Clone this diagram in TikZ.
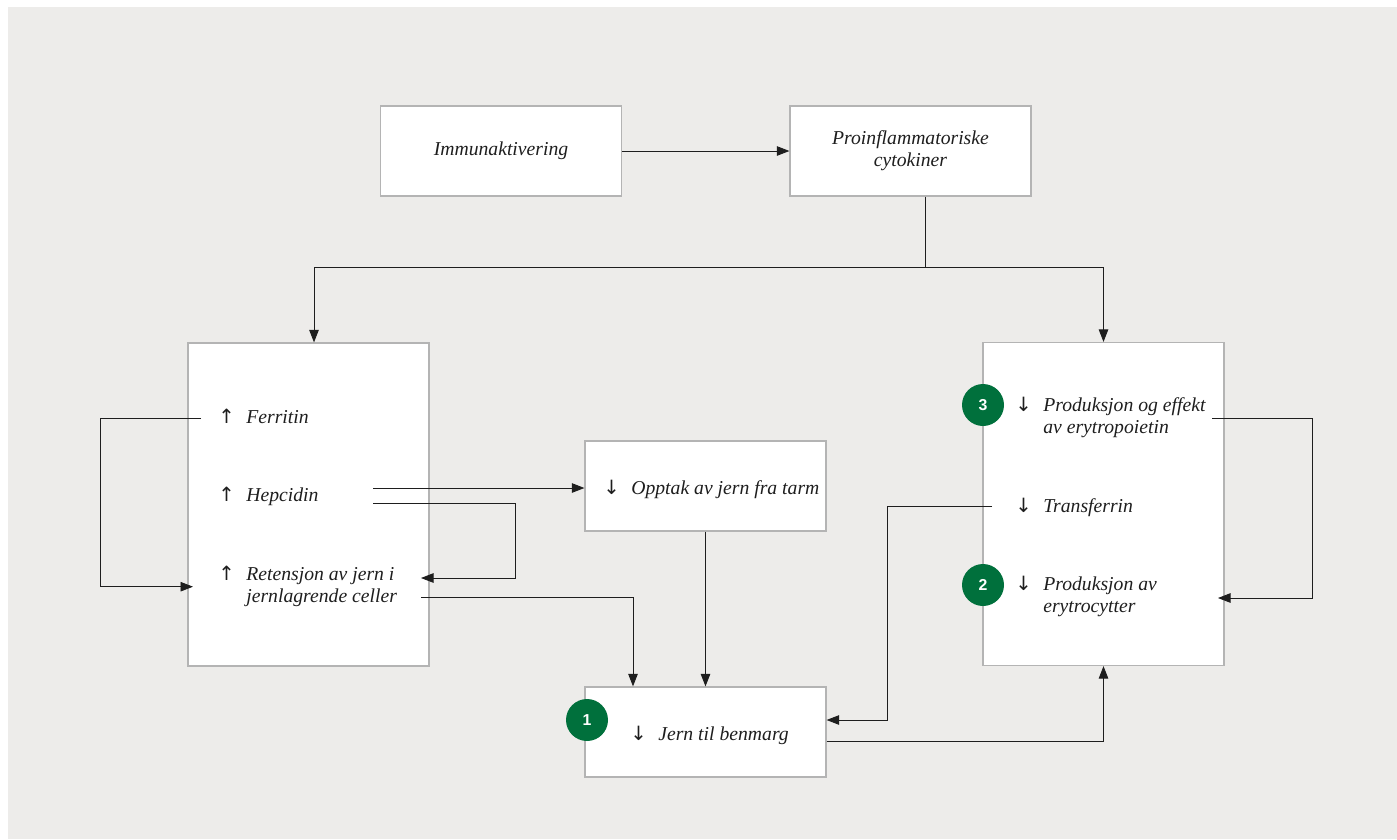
\documentclass[tikz,border=0pt]{standalone}
\usepackage{fontspec}
\setmainfont{Liberation Serif}
\newfontfamily\arrowfont{DejaVu Sans}
\setsansfont{Liberation Sans}
\usetikzlibrary{arrows.meta, positioning, calc}
\definecolor{bggray}{HTML}{EDECEA}
\definecolor{boxline}{HTML}{B4B4B4}
\definecolor{markgreen}{HTML}{00703C}
\definecolor{ink}{HTML}{1E1E1E}
\newcommand{\diafont}{\fontsize{11.2}{12.7}\selectfont\itshape}
\newcommand{\updn}[2]{\makebox[0.56cm][l]{\arrowfont\upshape #1}\begin{tabular}[t]{@{}l@{}}#2\end{tabular}}
\tikzset{
    box/.style={rectangle, draw=boxline, line width=0.7pt, fill=white, minimum width=4.82cm, minimum height=1.8cm, align=center, font=\diafont, text=ink},
    tallbox/.style={box, minimum height=6.46cm},
    item/.style={anchor=base west, inner sep=0pt, font=\diafont, text=ink},
    marker/.style={circle, fill=markgreen, text=white, minimum size=0.84cm, inner sep=0pt, font=\sffamily\bfseries\fontsize{9}{9}\selectfont},
    arrow/.style={-{Triangle[length=0.25cm, width=0.19cm]}, line width=0.5pt, draw=ink},
    line/.style={line width=0.5pt, draw=ink}
}

\begin{document}
\begin{tikzpicture}[x=0.02cm, y=-0.02cm]
    \useasboundingbox (0,0) rectangle (1397,839);
    \fill[bggray] (8,7) rectangle (1397,839);

    % --- Boxes ---
    \node (immun) [box] at (501,151) {Immunaktivering};
    \node (cytok) [box] at (910.5,151) {Proinflammatoriske\\cytokiner};
    \node (lbox) [tallbox] at (308.5,504.5) {};
    \node (rbox) [tallbox] at (1103.5,504) {};
    \node (opptak) [box] at (705.5,486) {};
    \node (jern) [box] at (705.5,732) {};

    % --- Items ---
    \node (ferritin) [item] at (218,423) {\updn{↑}{Ferritin}};
    \node (hepcidin) [item] at (218,501) {\updn{↑}{Hepcidin}};
    \node (retensjon) [item] at (218,580) {\updn{↑}{Retensjon av jern i\\jernlagrende celler}};
    \node (opptaktxt) [item] at (603,494) {\updn{↓}{Opptak av jern fra tarm}};
    \node (jerntxt) [item] at (630,740) {\updn{↓}{Jern til benmarg}};
    \node (epo) [item] at (1015,411) {\updn{↓}{Produksjon og effekt\\av erytropoietin}};
    \node (transferrin) [item] at (1015,512) {\updn{↓}{Transferrin}};
    \node (erytro) [item] at (1015,590) {\updn{↓}{Produksjon av\\erytrocytter}};

    % --- Free ends ---
    \coordinate (split) at (925,267);
    \coordinate (hepA) at (373,488);
    \coordinate (hepB) at (373,503);
    \coordinate (retR) at (421,578);
    \coordinate (retOut) at (421,597);
    \coordinate (epoR) at (1212,418);
    \coordinate (eryR) at (1218,598);
    \coordinate (trfL) at (992,506);

    % --- Connectors ---
    \draw [arrow] (immun) -- (cytok);
    \draw [line] (cytok.south -| split) -- (split);
    \draw [arrow] (split) -| ($(lbox.north)+(5.5,0)$);
    \draw [arrow] (split) -| (rbox.north);

    \draw [arrow] ([xshift=-0.34cm]ferritin.west) -- ++(-101,0) |- ([xshift=-0.5cm]retensjon.west);
    \draw [arrow] (hepA) -- (hepA -| opptak.west);
    \draw [arrow] (hepB) -- ++(142,0) |- (retR);
    \draw [arrow] (retOut) -| ($(jern.north)+(-72.5,0)$);
    \draw [arrow] (opptak) -- (jern);

    \draw [arrow] (epoR) -- ++(100,0) |- (eryR);
    \draw [arrow] (trfL) -- ++(-105,0) |- ($(jern.east)+(0,-12)$);
    \draw [arrow] ($(jern.east)+(0,9)$) -| (rbox.south);

    % --- Markers ---
    \node (m3) [marker] at (983,405) {3};
    \node (m2) [marker] at (983,585) {2};
    \node (m1) [marker] at (587,720) {1};
\end{tikzpicture}
\end{document}
